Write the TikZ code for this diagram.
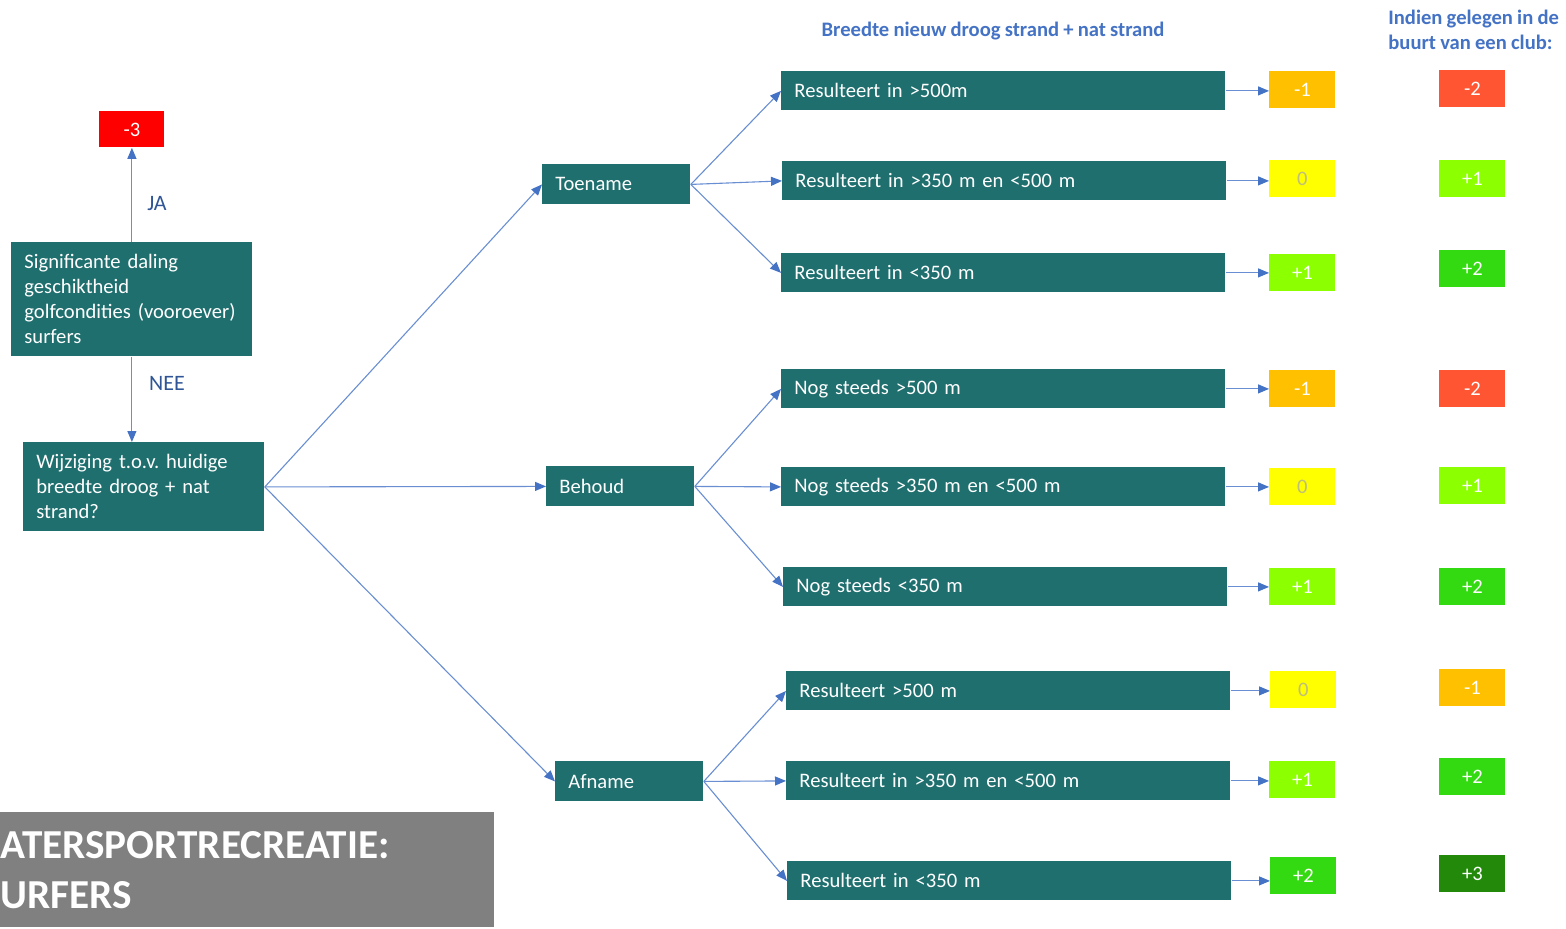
\documentclass[tikz,border=0pt]{standalone}
\usepackage{fontspec}
\setmainfont[WordSpace=0.9]{Carlito}
\usetikzlibrary{arrows.meta}
\definecolor{teal1}{RGB}{31,111,111}
\definecolor{tipblue}{RGB}{68,114,196}
\definecolor{lineblue}{RGB}{105,142,210}
\definecolor{hdrblue}{RGB}{68,114,196}
\definecolor{lblblue}{RGB}{47,85,151}
\definecolor{sorange}{RGB}{255,192,0}
\definecolor{syellow}{RGB}{255,255,0}
\definecolor{slime}{RGB}{140,255,0}
\definecolor{sgreen}{RGB}{51,217,17}
\definecolor{sdkgreen}{RGB}{34,137,10}
\definecolor{sred}{RGB}{255,0,0}
\definecolor{sredorange}{RGB}{255,85,51}
\definecolor{zerotext}{RGB}{190,190,125}
\definecolor{grayband}{RGB}{128,128,128}
\frenchspacing
\begin{document}
\begin{tikzpicture}[x=0.5pt,y=-0.5pt,
  txt/.style={font=\fontsize{10.3}{12.5}\selectfont},
  tbox/.style={txt, fill=teal1, text=white, inner xsep=6.5pt, inner ysep=0pt, align=left, anchor=north west},
  rbox/.style={tbox, text width=209pt, minimum height=19.5pt},
  mbox/.style={tbox, text width=61pt, minimum height=20pt},
  sbox/.style={txt, text=white, minimum width=33pt, minimum height=18.5pt, inner sep=0pt, anchor=north west},
  hdr/.style={font=\bfseries\fontsize{10.3}{12.5}\selectfont, text=hdrblue, inner sep=0pt},
  lbl/.style={font=\fontsize{11}{13}\selectfont, text=lblblue, inner sep=0pt},
  arr/.style={draw=lineblue, line width=0.55pt, -{Triangle[length=5.5pt,width=4.5pt,fill=tipblue,color=tipblue]}}
]
\useasboundingbox (0,0) rectangle (1566,928);

% headers
\node[hdr] (hdrA) at (993,31) {Breedte nieuw droog strand + nat strand};
\node[hdr, anchor=west, align=left] (hdrB) at (1388,29.5) {Indien gelegen in de\\buurt van een club:};

% left column
\node[sbox, fill=sred, minimum width=32.5pt, minimum height=18pt] (m3) at (99,111) {-3};
\node[tbox, text width=107.5pt, minimum height=57pt] (sig) at (11,242)
  {Significante daling\\geschiktheid\\golfcondities~(vooroever)\\surfers};
\node[tbox, text width=107.5pt, minimum height=44.5pt] (wijz) at (23,442)
  {Wijziging t.o.v. huidige\\breedte droog + nat\\strand?};
\node[lbl] (ja) at (157,204) {JA};
\node[lbl] (nee) at (167,383) {NEE};

% middle
\node[mbox] (toe) at (542,164) {Toename};
\node[mbox] (beh) at (546,466) {Behoud};
\node[mbox] (afn) at (555,761) {Afname};

% results
\node[rbox] (r1) at (781,71) {Resulteert in >500m};
\node[rbox] (r2) at (782,161) {Resulteert in >350 m en <500 m};
\node[rbox] (r3) at (781,253) {Resulteert in <350 m};
\node[rbox] (r4) at (781,369) {Nog steeds >500 m};
\node[rbox] (r5) at (781,467) {Nog steeds >350 m en <500 m};
\node[rbox] (r6) at (783,567) {Nog steeds <350 m};
\node[rbox] (r7) at (786,671) {Resulteert >500 m};
\node[rbox] (r8) at (786,761) {Resulteert in >350 m en <500 m};
\node[rbox] (r9) at (787,861) {Resulteert in <350 m};

% scores column 1
\node[sbox, fill=sorange] (s1) at (1269,71) {-1};
\node[sbox, fill=syellow, text=zerotext] (s2) at (1269,160) {0};
\node[sbox, fill=slime] (s3) at (1269,254) {+1};
\node[sbox, fill=sorange] (s4) at (1269,370) {-1};
\node[sbox, fill=syellow, text=zerotext] (s5) at (1269,468) {0};
\node[sbox, fill=slime] (s6) at (1269,568) {+1};
\node[sbox, fill=syellow, text=zerotext] (s7) at (1270,671) {0};
\node[sbox, fill=slime] (s8) at (1269,761) {+1};
\node[sbox, fill=sgreen] (s9) at (1270,857) {+2};

% scores column 2
\node[sbox, fill=sredorange] (c1) at (1439,70) {-2};
\node[sbox, fill=slime] (c2) at (1439,160) {+1};
\node[sbox, fill=sgreen] (c3) at (1439,250) {+2};
\node[sbox, fill=sredorange] (c4) at (1439,370) {-2};
\node[sbox, fill=slime] (c5) at (1439,467) {+1};
\node[sbox, fill=sgreen] (c6) at (1439,568) {+2};
\node[sbox, fill=sorange] (c7) at (1439,669) {-1};
\node[sbox, fill=sgreen] (c8) at (1439,758) {+2};
\node[sbox, fill=sdkgreen] (c9) at (1439,855) {+3};

% gray title band
\node[fill=grayband, anchor=north west, minimum width=247pt, minimum height=57.5pt,
  inner xsep=0pt, inner ysep=0pt, text width=247pt, align=left, text=white,
  font=\bfseries\fontsize{20.6}{25}\selectfont] (band) at (0,812)
  {ATERSPORTRECREATIE:\\URFERS};

% connectors left
\draw[arr] (sig.north) -- (m3.south);
\draw[arr] (sig.south) -- (sig.south |- wijz.north);
\draw[arr] (wijz.east) -- (toe.west);
\draw[arr] (wijz.east) -- (beh.west);
\draw[arr] (wijz.east) -- (afn.west);

% connectors middle
\foreach \r in {r1,r2,r3} \draw[arr] (toe.east) -- (\r.west);
\foreach \r in {r4,r5,r6} \draw[arr] (beh.east) -- (\r.west);
\foreach \r in {r7,r8,r9} \draw[arr] (afn.east) -- (\r.west);

% connectors to scores
\draw[arr] (r1.east) -- (r1.east -| s1.west);
\draw[arr] (r2.east) -- (r2.east -| s2.west);
\draw[arr] (r3.east) -- (r3.east -| s3.west);
\draw[arr] (r4.east) -- (r4.east -| s4.west);
\draw[arr] (r5.east) -- (r5.east -| s5.west);
\draw[arr] (r6.east) -- (r6.east -| s6.west);
\draw[arr] (r7.east) -- (r7.east -| s7.west);
\draw[arr] (r8.east) -- (r8.east -| s8.west);
\draw[arr] (r9.east) -- (r9.east -| s9.west);
\end{tikzpicture}
\end{document}
